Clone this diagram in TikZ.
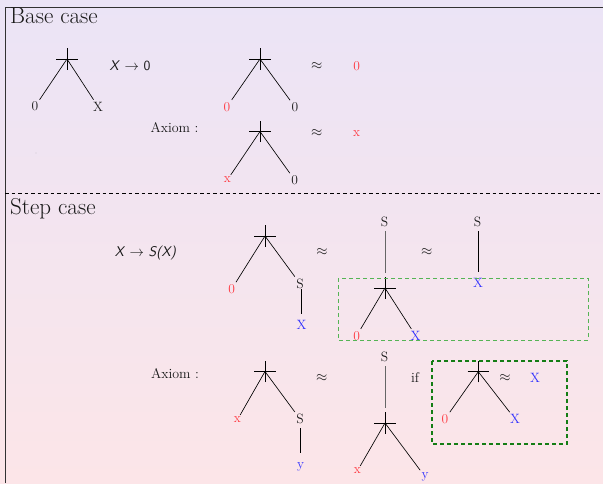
\documentclass[tikz,border=0pt]{standalone}
\usetikzlibrary{shapes.misc}
\definecolor{bgtop}{RGB}{235,228,246}
\definecolor{bgbot}{RGB}{252,229,232}
\definecolor{lred}{RGB}{255,56,64}
\definecolor{lblue}{RGB}{45,45,255}
\definecolor{boxlight}{RGB}{85,180,85}
\definecolor{boxdark}{RGB}{20,125,20}
\definecolor{framegray}{RGB}{50,50,50}
\tikzset{
  root/.style={draw=black, cross out, rotate=45, minimum size=14.5pt, inner sep=0pt, line width=0.6pt},
  lab/.style={inner sep=2pt, font=\fontsize{13.5}{15}\selectfont, text=black!90},
  rl/.style={lab, text=lred},
  bl/.style={lab, text=lblue},
  edge/.style={draw=black, line width=0.65pt},
  txt/.style={inner sep=0pt, font=\fontsize{14}{16}\selectfont, text=black!90},
  title/.style={inner sep=0pt, anchor=base west, font=\fontsize{23}{26}\selectfont, text=black!90},
  lightbox/.style={draw=boxlight, dash pattern=on 4pt off 3pt, line width=1pt},
  darkbox/.style={draw=boxdark, dash pattern=on 4pt off 3pt, line width=1.5pt},
}
\begin{document}
\begin{tikzpicture}[x=1pt,y=-1pt]
\useasboundingbox (0,0) rectangle (603,483);
\shade[top color=bgtop, bottom color=bgbot] (0,0) rectangle (603,483);
% frame
\draw[framegray, line width=1pt] (5,483) -- (5,7) -- (603,7);
\draw[black, dash pattern=on 3.5pt off 3pt, line width=0.6pt] (5,193) -- (603,193);

% titles
\node[title] (base) at (10,23.3) {Base case};
\node[title] (step) at (10,214.5) {Step case};

% ---------- Base case ----------
% T1
\node[root] (r1) at (67,59) {};
\node[lab] (a1) at (35,106.5) {0};
\node[lab] (b1) at (98,106.5) {X};
\draw[edge] (r1.center) -- (a1);
\draw[edge] (r1.center) -- (b1);
\node[txt] (rule1) at (130,65.7) {\textsf{\itshape X} $\rightarrow$ \textsf{0}};

% T2
\node[root] (r2) at (260,59) {};
\node[rl] (a2) at (227,106.7) {0};
\node[lab] (b2) at (295,107) {0};
\draw[edge] (r2.center) -- (a2);
\draw[edge] (r2.center) -- (b2);
\node[txt] (ap2) at (316.7,65.7) {$\approx$};
\node[rl] (res2) at (356.7,65.7) {0};

% T3
\node[txt] (ax1) at (174.5,127.7) {Axiom :};
\node[root] (r3) at (260,131.5) {};
\node[rl] (a3) at (227.3,180) {x};
\node[lab] (b3) at (294.7,180) {0};
\draw[edge] (r3.center) -- (a3);
\draw[edge] (r3.center) -- (b3);
\node[txt] (ap3) at (316.7,133.3) {$\approx$};
\node[rl] (res3) at (356.7,133.3) {x};

\fill[black!40] (36,153) circle (0.4pt);

% ---------- Step case ----------
\node[txt] (rule2) at (145.5,253.3) {\textsf{\itshape X} $\rightarrow$ \textsf{\itshape S(X)}};

% T4
\node[root] (r4) at (265,236) {};
\node[rl] (a4) at (231.7,289) {0};
\node[lab] (s4) at (300,283.7) {S};
\node[bl] (x4) at (301.5,325) {X};
\draw[edge] (r4.center) -- (a4);
\draw[edge] (r4.center) -- (s4);
\draw[edge, shorten <=-2pt, shorten >=4pt] (x4.north |- s4.south) -- (x4.north);
\node[txt] (ap4) at (322,252) {$\approx$};

% T5
\node[lab] (s5) at (384.5,221.7) {S};
\node[root] (r5) at (385,288) {};
\node[rl] (a5) at (356.7,335.7) {0};
\node[bl] (x5) at (415.7,335.7) {X};
\draw[edge, line width=1pt, black!60, shorten <=2.3pt, shorten >=15.3pt] (r5.center |- s5.south) -- (r5.center);
\draw[edge] (r5.center) -- (a5);
\draw[edge] (r5.center) -- (x5);
\node[txt] (ap5) at (426.7,252.3) {$\approx$};

% T6
\node[lab] (s6) at (477.5,221.7) {S};
\node[bl] (x6) at (478,283.3) {X};
\draw[edge, shorten <=2.3pt, shorten >=4.5pt] (x6.north |- s6.south) -- (x6.north);

\draw[lightbox] (338,278) rectangle (588,340);

% T7
\node[txt] (ax2) at (175,373.3) {Axiom :};
\node[root] (r7) at (265,371.5) {};
\node[rl] (a7) at (237.3,420) {x};
\node[lab] (s7) at (300,419) {S};
\node[bl] (y7) at (300.5,466.7) {y};
\draw[edge, shorten <=2.3pt, shorten >=7pt] (y7.north |- s7.south) -- (y7.north);
\draw[edge] (r7.center) -- (a7);
\draw[edge] (r7.center) -- (s7);
\node[txt] (ap7) at (321.7,377.7) {$\approx$};

% T8
\node[lab] (s8) at (384.5,356.7) {S};
\node[root] (r8) at (385,423) {};
\node[rl] (a8) at (357.3,471) {x};
\node[bl] (y8) at (425,476.7) {y};
\draw[edge, line width=1pt, black!60, shorten <=2.3pt, shorten >=14.7pt] (r8.center |- s8.south) -- (r8.center);
\draw[edge] (r8.center) -- (a8);
\draw[edge] (r8.center) -- (y8);

\node[txt] (if) at (415,377.7) {if};

% T9
\node[root] (r9) at (478.3,371.7) {};
\node[rl] (a9) at (445,419) {0};
\node[bl] (x9) at (515,419) {X};
\draw[edge] (r9.center) -- (a9);
\draw[edge] (r9.center) -- (x9);
\node[txt] (ap9) at (505,377.7) {$\approx$};
\node[bl] (res9) at (535,377.7) {X};

\draw[darkbox] (432,361) rectangle (567,444);
\end{tikzpicture}
\end{document}
